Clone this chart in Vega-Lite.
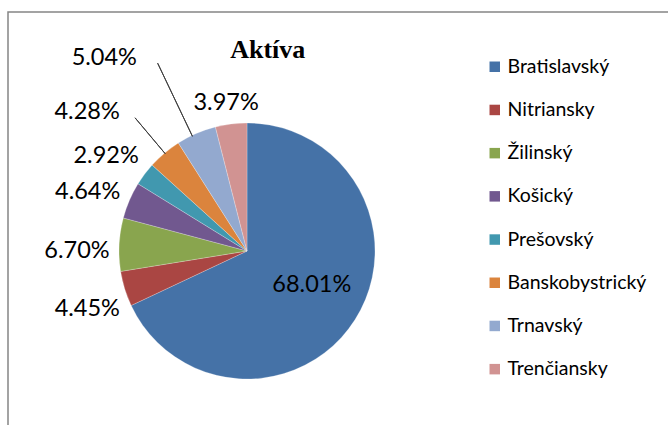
{
  "$schema": "https://vega.github.io/schema/vega-lite/v6.json",
  "width": 700,
  "height": 440,
  "autosize": {"type": "none"},
  "padding": {"left": 8, "top": 12, "right": -40, "bottom": -27},
  "background": "white",
  "config": {
    "view": {"stroke": "#858585", "strokeWidth": 1.5},
    "text": {"font": "Lato", "fontSize": 23.5, "color": "#000000"}
  },
  "title": {
    "text": "Aktíva",
    "font": "Liberation Serif",
    "fontSize": 26,
    "fontWeight": "bold",
    "color": "#000000",
    "anchor": "start",
    "dx": 252,
    "offset": -51
  },
  "data": {
    "values": [
      {"idx": 0, "region": "Bratislavský", "share": 0.6801},
      {"idx": 1, "region": "Nitriansky", "share": 0.0445},
      {"idx": 2, "region": "Žilinský", "share": 0.0670},
      {"idx": 3, "region": "Košický", "share": 0.0464},
      {"idx": 4, "region": "Prešovský", "share": 0.0292},
      {"idx": 5, "region": "Banskobystrický", "share": 0.0428},
      {"idx": 6, "region": "Trnavský", "share": 0.0504},
      {"idx": 7, "region": "Trenčiansky", "share": 0.0397}
    ]
  },
  "encoding": {
    "theta": {"field": "share", "type": "quantitative", "stack": true},
    "order": {"field": "idx", "type": "quantitative"},
    "x": {"value": 239},
    "y": {"value": 239}
  },
  "layer": [
    {
      "mark": {"type": "arc", "outerRadius": 128, "stroke": "#ffffff", "strokeWidth": 0.4, "strokeOpacity": 0.6},
      "encoding": {
        "color": {
          "field": "region",
          "type": "nominal",
          "scale": {
            "domain": ["Bratislavský", "Nitriansky", "Žilinský", "Košický", "Prešovský", "Banskobystrický", "Trnavský", "Trenčiansky"],
            "range": ["#4572A7", "#AA4643", "#89A54E", "#71588F", "#4198AF", "#DB843D", "#93A9CF", "#D19392"]
          },
          "legend": {
            "orient": "none",
            "legendX": 477,
            "legendY": 45,
            "title": null,
            "symbolType": "square",
            "symbolSize": 110,
            "symbolStrokeWidth": 0,
            "labelFont": "Lato",
            "labelFontSize": 19.5,
            "labelColor": "#000000",
            "labelOffset": 3,
            "rowPadding": 22.2,
            "padding": 0
          }
        }
      }
    },
    {
      "transform": [
        {"stack": "share", "groupby": [], "sort": [{"field": "idx", "order": "ascending"}], "as": ["a0", "a1"]},
        {"filter": "datum.region === 'Banskobystrický'"}
      ],
      "mark": {"type": "arc", "filled": false, "stroke": "#404040", "strokeWidth": 1, "outerRadius": 174, "innerRadius": 127, "thetaOffset": 0.136, "theta2Offset": 0.136},
      "encoding": {
        "theta": {"field": "a0", "type": "quantitative"},
        "theta2": {"field": "a0"}
      }
    },
    {
      "transform": [
        {"stack": "share", "groupby": [], "sort": [{"field": "idx", "order": "ascending"}], "as": ["a0", "a1"]},
        {"filter": "datum.region === 'Trnavský'"}
      ],
      "mark": {"type": "arc", "filled": false, "stroke": "#404040", "strokeWidth": 1, "outerRadius": 208, "innerRadius": 127, "thetaOffset": 0.122, "theta2Offset": 0.122},
      "encoding": {
        "theta": {"field": "a0", "type": "quantitative"},
        "theta2": {"field": "a0"}
      }
    },
    {
      "mark": {"type": "text", "radius": 73, "thetaOffset": -0.087},
      "encoding": {
        "text": {"field": "share", "type": "quantitative", "format": ".2%"},
        "opacity": {"condition": {"test": "datum.region === 'Bratislavský'", "value": 1}, "value": 0}
      }
    },
    {
      "mark": {"type": "text", "radius": 170, "thetaOffset": -0.05},
      "encoding": {
        "text": {"field": "share", "type": "quantitative", "format": ".2%"},
        "opacity": {"condition": {"test": "indexof(['Nitriansky','Žilinský','Košický','Prešovský'], datum.region) >= 0", "value": 1}, "value": 0}
      }
    },
    {
      "mark": {"type": "text", "radius": 149, "thetaOffset": -0.016},
      "encoding": {
        "text": {"field": "share", "type": "quantitative", "format": ".2%"},
        "opacity": {"condition": {"test": "datum.region === 'Trenčiansky'", "value": 1}, "value": 0}
      }
    },
    {
      "mark": {"type": "text", "radius": 212, "thetaOffset": -0.154},
      "encoding": {
        "text": {"field": "share", "type": "quantitative", "format": ".2%"},
        "opacity": {"condition": {"test": "datum.region === 'Banskobystrický'", "value": 1}, "value": 0}
      }
    },
    {
      "mark": {"type": "text", "radius": 240, "thetaOffset": -0.229},
      "encoding": {
        "text": {"field": "share", "type": "quantitative", "format": ".2%"},
        "opacity": {"condition": {"test": "datum.region === 'Trnavský'", "value": 1}, "value": 0}
      }
    }
  ]
}
